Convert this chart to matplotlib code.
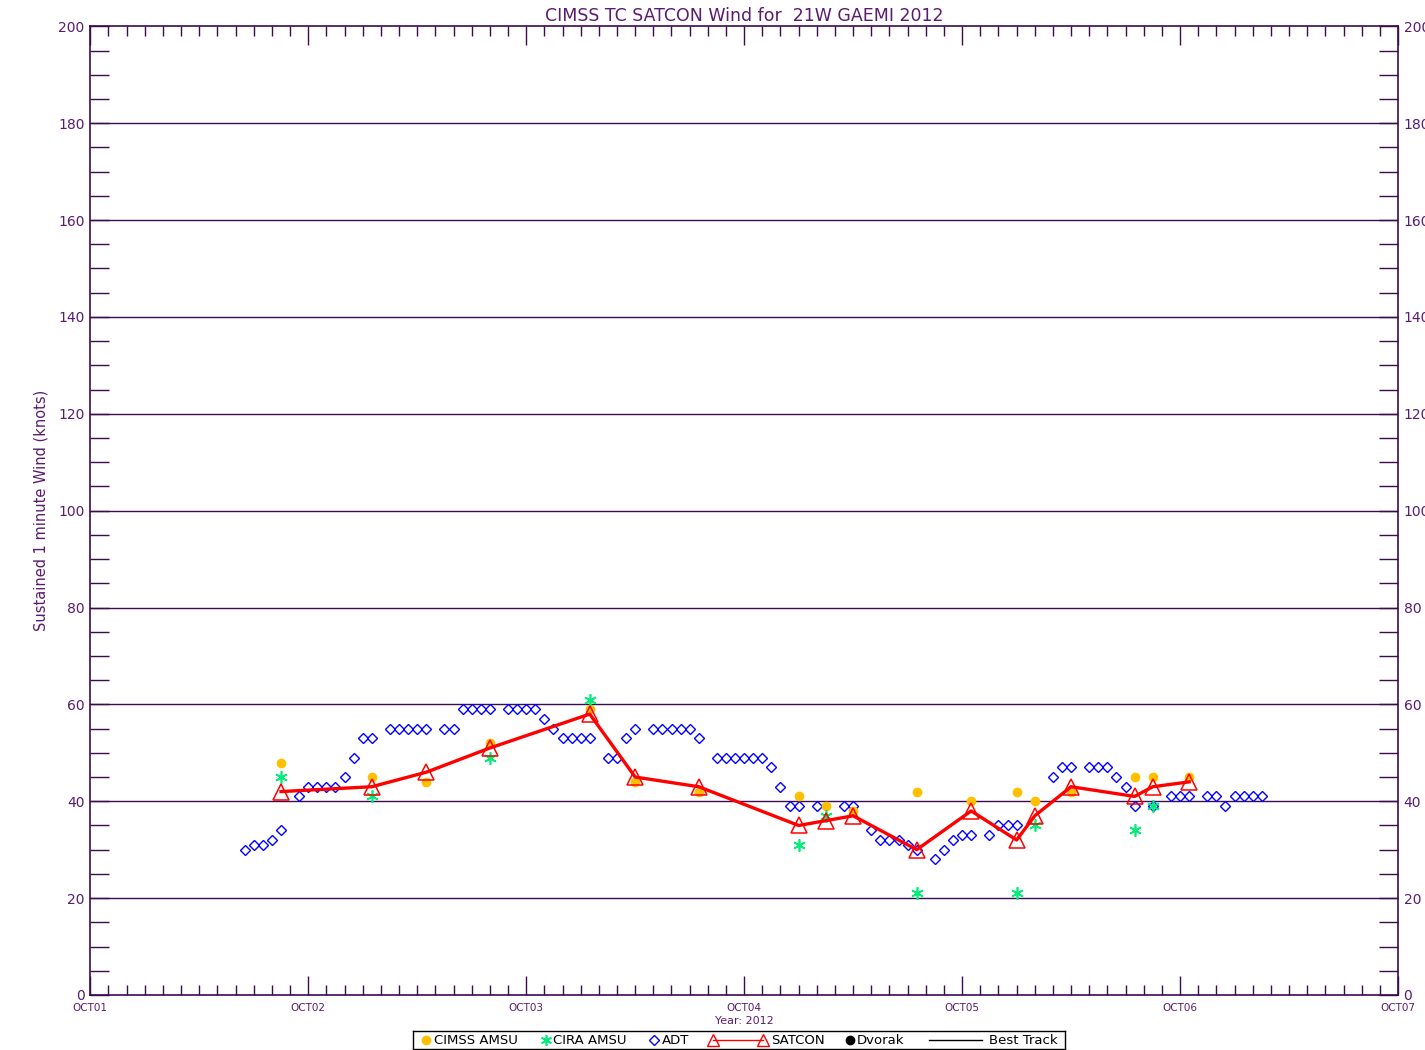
import matplotlib
matplotlib.use("Agg")
import matplotlib.pyplot as plt
import numpy as np
from matplotlib.lines import Line2D

# hours after 00Z 01 Oct 2012, winds in knots
adt_hr = [17, 18, 19, 20, 21, 23, 24, 25, 26, 27, 28, 29, 30, 31, 33, 34, 35, 36, 37,
          39, 40, 41, 42, 43, 44, 46, 47, 48, 49, 50, 51, 52, 53, 54, 55, 57, 58, 59,
          60, 62, 63, 64, 65, 66, 67, 69, 70, 71, 72, 73, 74, 75, 76, 77, 78, 80, 83,
          84, 86, 87, 88, 89, 90, 91, 93, 94, 95, 96, 97, 99, 100, 101, 102, 106, 107,
          108, 110, 111, 112, 113, 114, 115, 117, 119, 120, 121, 123, 124, 125, 126,
          127, 128, 129]
adt_kt = [30, 31, 31, 32, 34, 41, 43, 43, 43, 43, 45, 49, 53, 53, 55, 55, 55, 55, 55,
          55, 55, 59, 59, 59, 59, 59, 59, 59, 59, 57, 55, 53, 53, 53, 53, 49, 49, 53,
          55, 55, 55, 55, 55, 55, 53, 49, 49, 49, 49, 49, 49, 47, 43, 39, 39, 39, 39,
          39, 34, 32, 32, 32, 31, 30, 28, 30, 32, 33, 33, 33, 35, 35, 35, 45, 47,
          47, 47, 47, 47, 45, 43, 39, 39, 41, 41, 41, 41, 41, 39, 41,
          41, 41, 41]

satcon_hr = [21, 31, 37, 44, 55, 60, 67, 78, 81, 84, 91, 97, 102, 104, 108, 115, 117, 121]
satcon_kt = [42, 43, 46, 51, 58, 45, 43, 35, 36, 37, 30, 38, 32, 37, 43, 41, 43, 44]

cimss_hr = [21, 31, 37, 44, 55, 60, 67, 78, 81, 84, 91, 97, 102, 104, 108, 115, 117, 121]
cimss_kt = [48, 45, 44, 52, 59, 44, 42, 41, 39, 38, 42, 40, 42, 40, 42, 45, 45, 45]

cira_hr = [21, 31, 44, 55, 78, 81, 91, 102, 104, 115, 117]
cira_kt = [45, 41, 49, 61, 31, 37, 21, 21, 35, 34, 39]

day_labels = ["OCT01", "OCT02", "OCT03", "OCT04", "OCT05", "OCT06", "OCT07"]

PURPLE = "#3c0a4e"
TXT = "#5a1a70"
GOLD = "#ffc000"
GREEN = "#00ee77"
BLUE = "#0000ff"
RED = "#ff0000"

plt.rcParams["font.family"] = ["DejaVu Sans"]


def to_day(hours):
    return 1 + np.asarray(hours, dtype=float) / 24.0


fig = plt.figure(figsize=(14.25, 10.5), dpi=100)
ax = fig.add_axes([90.3 / 1425, 55 / 1050, (1398 - 90.3) / 1425, (995 - 26.3) / 1050])

ax.set_xlim(1, 7)
ax.set_ylim(0, 200)

for g in range(20, 200, 20):
    ax.axhline(g, color=PURPLE, lw=1.0, zorder=1)

ax.plot(to_day(adt_hr), adt_kt, ls="none", marker="D", ms=5, mfc="none",
        mec=BLUE, mew=1.0, zorder=3)
ax.plot(to_day(cimss_hr), cimss_kt, ls="none", marker="o", ms=6, mfc=GOLD,
        mec=GOLD, zorder=4)
ax.plot(to_day(cira_hr), cira_kt, ls="none", marker=(6, 2, 0), ms=9,
        mec=GREEN, mew=1.2, zorder=4)
ax.plot(to_day(satcon_hr), satcon_kt, color=RED, lw=2.4, marker="^", ms=11,
        mfc="none", mec=RED, mew=1.1, zorder=5)

# ticks
ax.set_xticks(np.arange(1, 8))
ax.set_xticklabels(day_labels)
ax.set_xticks(np.arange(1, 7.001, 1 / 12), minor=True)
ax.set_yticks(np.arange(0, 201, 20))
ax.set_yticks(np.arange(0, 201, 5), minor=True)
ax.tick_params(axis="x", which="major", direction="in", length=14, width=1,
               top=True, bottom=True, color=PURPLE, labelcolor=TXT,
               labelsize=7.5, pad=6)
ax.tick_params(axis="x", which="minor", direction="in", length=7, width=1,
               top=True, bottom=True, color=PURPLE)
ax.tick_params(axis="y", which="both", direction="in", length=14, width=1,
               left=True, right=True, labelleft=True, labelright=True,
               color=PURPLE, labelcolor=TXT, labelsize=10, pad=4)
for s in ax.spines.values():
    s.set_color(PURPLE)
    s.set_linewidth(1.2)

ax.set_title("CIMSS TC SATCON Wind for  21W GAEMI 2012", color=TXT,
             fontsize=12.5, pad=4)
ax.set_ylabel("Sustained 1 minute Wind (knots)", color=TXT, fontsize=10.5,
              labelpad=7)
fig.text(744 / 1425, 1 - 1021 / 1050, "Year: 2012", color=TXT, fontsize=8,
         ha="center", va="center")

# legend box drawn in pixel units
lax = fig.add_axes([413 / 1425, 1 / 1050, 652 / 1425, 18 / 1050])
lax.set_xlim(413, 1065)
lax.set_ylim(0, 1)
lax.set_xticks([])
lax.set_yticks([])
for s in lax.spines.values():
    s.set_color("black")
    s.set_linewidth(1.0)
ly = 0.5
lfs = 9.5
lax.plot([426], [ly], marker="o", ms=6, color=GOLD, ls="none")
lax.text(434, ly, "CIMSS AMSU", fontsize=lfs, va="center", color="black")
lax.plot([546], [ly], marker=(6, 2, 0), ms=8, mec=GREEN, mew=1.2, ls="none")
lax.text(553, ly, "CIRA AMSU", fontsize=lfs, va="center", color="black")
lax.plot([654], [ly], marker="D", ms=5, mfc="none", mec=BLUE, ls="none")
lax.text(662, ly, "ADT", fontsize=lfs, va="center", color="black")
lax.add_line(Line2D([713, 763], [ly, ly], color=RED, lw=1.0, marker="^", ms=8,
                    mfc="none", mec=RED))
lax.text(771, ly, "SATCON", fontsize=lfs, va="center", color="black")
lax.plot([850], [ly], marker="o", ms=6, color="black", ls="none")
lax.text(857, ly, "Dvorak", fontsize=lfs, va="center", color="black")
lax.add_line(Line2D([929, 982], [ly, ly], color="black", lw=1.0))
lax.text(989, ly, "Best Track", fontsize=lfs, va="center", color="black")

fig.savefig("out.png", dpi=100)
